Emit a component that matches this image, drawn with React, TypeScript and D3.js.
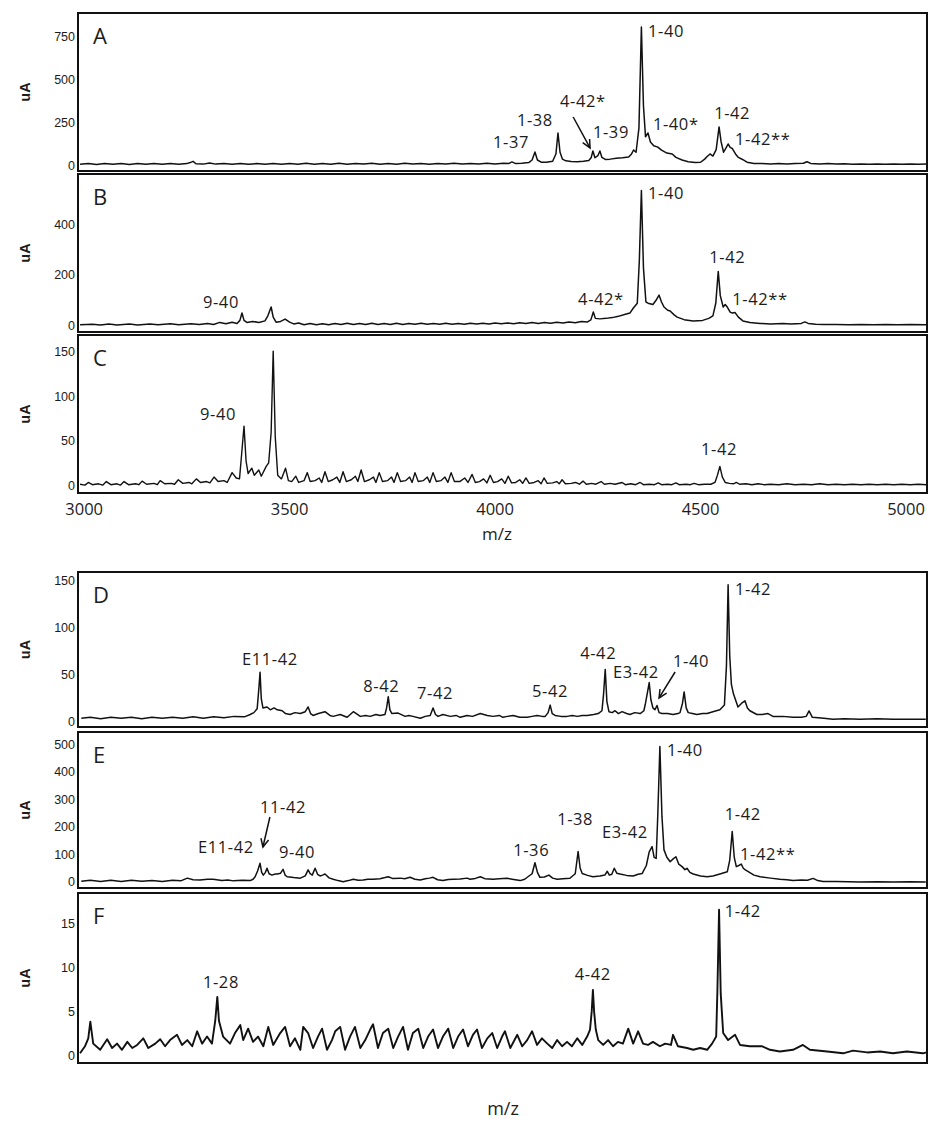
import React from 'react';
import * as d3 from 'd3';

// ---------------- DATA ----------------
const mzTicks = [3000, 3500, 4000, 4500, 5000];
const mzDomain = [2985, 5051];

const yTicksA = [0, 250, 500, 750];
const yTicksB = [0, 200, 400];
const yTicksC = [0, 50, 100, 150];
const yTicksD = [0, 50, 100, 150];
const yTicksE = [0, 100, 200, 300, 400, 500];
const yTicksF = [0, 5, 10, 15];

type Pt = [number, number];

const spectrumA: Pt[] = [[2990,10],[3010,14],[3030,9],[3050,15],[3070,10],[3090,14],[3110,9],[3130,15],[3150,10],[3170,15],[3190,10],[3210,14],[3230,10],[3250,14],[3258,20],[3265,27],[3272,13],[3290,11],[3305,18],[3320,11],[3340,14],[3360,10],[3380,15],[3400,10],[3420,14],[3440,10],[3460,15],[3480,10],[3500,14],[3520,10],[3540,16],[3560,10],[3580,15],[3600,10],[3620,16],[3640,10],[3660,15],[3680,11],[3700,16],[3720,10],[3740,15],[3760,10],[3780,16],[3800,11],[3820,15],[3840,10],[3860,15],[3880,11],[3900,16],[3920,11],[3940,15],[3960,12],[3980,16],[4000,12],[4020,16],[4033,14],[4041,24],[4050,14],[4065,16],[4082,20],[4090,35],[4097,81],[4103,35],[4112,22],[4125,22],[4140,28],[4148,70],[4153,192],[4158,80],[4164,40],[4172,30],[4185,26],[4200,25],[4215,28],[4228,32],[4234,50],[4238,87],[4243,48],[4250,60],[4255,87],[4260,50],[4268,38],[4280,40],[4295,45],[4310,48],[4325,52],[4332,70],[4337,93],[4343,80],[4350,220],[4356,808],[4361,350],[4366,170],[4372,192],[4378,140],[4386,118],[4396,110],[4405,92],[4418,75],[4431,70],[4440,50],[4455,35],[4470,25],[4487,20],[4500,22],[4510,40],[4516,55],[4523,70],[4530,58],[4538,95],[4545,227],[4550,140],[4556,80],[4562,105],[4567,128],[4572,108],[4577,102],[4585,70],[4592,50],[4602,38],[4613,22],[4630,15],[4650,14],[4670,12],[4690,15],[4710,12],[4730,14],[4750,16],[4759,25],[4768,15],[4790,12],[4810,14],[4830,11],[4850,13],[4870,10],[4890,12],[4910,10],[4930,12],[4950,10],[4970,12],[4990,10],[5010,12],[5030,10],[5050,11]];

const spectrumB: Pt[] = [[2990,5],[3020,7],[3040,4],[3060,8],[3080,4],[3110,8],[3130,4],[3160,8],[3180,5],[3210,9],[3230,5],[3260,9],[3280,6],[3300,10],[3315,6],[3330,14],[3345,9],[3360,15],[3372,10],[3379,22],[3384,51],[3389,22],[3396,14],[3410,18],[3425,14],[3440,20],[3447,40],[3455,75],[3460,35],[3467,15],[3478,18],[3489,27],[3500,15],[3510,8],[3522,12],[3535,5],[3550,10],[3565,5],[3580,9],[3595,5],[3610,10],[3625,6],[3640,11],[3655,6],[3670,10],[3685,6],[3700,11],[3715,6],[3730,10],[3745,6],[3760,11],[3775,6],[3790,10],[3805,7],[3820,11],[3835,7],[3850,10],[3865,7],[3880,11],[3895,7],[3910,10],[3925,7],[3940,11],[3955,8],[3970,11],[3985,8],[4000,12],[4015,9],[4030,12],[4045,9],[4060,13],[4075,10],[4090,14],[4105,10],[4120,14],[4135,11],[4150,15],[4165,12],[4180,16],[4195,13],[4210,18],[4225,16],[4233,24],[4239,55],[4244,30],[4255,28],[4270,30],[4285,33],[4300,38],[4315,45],[4328,51],[4336,70],[4346,90],[4351,260],[4356,537],[4361,230],[4367,95],[4372,90],[4384,85],[4393,105],[4399,122],[4405,95],[4411,75],[4420,62],[4426,59],[4435,45],[4443,35],[4460,25],[4482,20],[4505,22],[4520,30],[4530,40],[4537,90],[4543,216],[4548,120],[4555,75],[4560,85],[4565,75],[4572,55],[4577,51],[4584,53],[4592,35],[4603,20],[4620,14],[4645,10],[4670,8],[4700,10],[4720,8],[4745,10],[4754,16],[4762,10],[4780,7],[4800,6],[4830,6],[4860,5],[4890,6],[4920,5],[4950,6],[4980,5],[5010,6],[5050,5]];

const spectrumC: Pt[] = [[2990,2],[3002,1],[3010,4],[3020,1.5],[3035,2.5],[3045,1],[3054,5],[3065,1.5],[3080,2.5],[3088,1],[3097,5],[3108,1.5],[3125,2.5],[3133,1.5],[3141,5.5],[3152,2],[3170,3],[3178,1.5],[3185,6],[3196,2.5],[3212,3],[3220,2],[3229,7],[3240,3],[3255,4],[3262,2.5],[3273,8],[3283,4],[3298,5],[3306,3.5],[3316,10],[3326,5],[3340,6],[3348,4],[3360,15],[3370,9],[3378,8],[3384,40],[3389,67],[3394,28],[3399,14],[3408,20],[3414,12],[3425,18],[3431,11],[3443,22],[3449,26],[3455,60],[3460,151],[3465,55],[3471,12],[3480,8],[3490,20],[3497,6],[3505,5],[3515,11],[3522,4],[3535,6],[3543,15],[3550,5],[3562,6],[3572,9],[3578,4],[3586,16],[3594,5],[3605,7],[3615,10],[3622,4],[3630,16],[3638,5],[3650,7],[3660,11],[3666,5],[3674,18],[3682,5],[3694,7],[3704,10],[3710,4],[3718,15],[3726,5],[3738,6],[3748,10],[3754,4],[3762,15],[3770,5],[3782,6],[3792,10],[3798,4],[3805,15],[3813,5],[3825,6],[3835,10],[3841,4],[3849,15],[3857,5],[3868,6],[3878,10],[3885,4],[3893,15],[3901,5],[3914,5],[3926,9],[3934,4],[3944,13],[3952,4],[3962,5],[3972,8],[3980,3.5],[3988,12],[3996,4],[4006,5],[4016,8],[4024,3],[4032,11],[4040,3.5],[4050,4],[4060,7],[4067,3],[4075,9],[4083,3],[4095,4],[4105,6],[4112,2.5],[4119,9],[4127,3],[4140,3.5],[4150,5],[4156,2.5],[4163,7],[4171,2.5],[4185,3],[4196,4],[4205,2],[4214,5.5],[4222,2],[4235,3],[4245,2],[4258,5],[4266,2],[4280,3],[4292,2],[4309,4],[4317,1.5],[4330,2.5],[4342,1.5],[4353,4],[4361,1.5],[4375,2],[4388,1.5],[4397,3.5],[4405,1.5],[4420,2],[4430,1.5],[4440,3.5],[4448,1.5],[4465,2],[4475,1.5],[4484,3],[4495,1.5],[4510,2],[4525,2],[4535,4],[4541,12],[4547,22],[4553,10],[4560,4],[4570,3],[4580,2.5],[4587,4],[4595,2],[4610,2.5],[4625,1.5],[4640,2.5],[4655,1.5],[4670,2],[4690,1.5],[4710,2.5],[4730,1.5],[4750,2],[4770,1.5],[4790,2.5],[4810,1.5],[4830,2],[4850,1.5],[4870,2],[4890,1.5],[4910,2],[4930,1.5],[4950,2],[4970,1.5],[4990,2],[5010,1.5],[5030,2],[5050,1.5]];

const spectrumD: Pt[] = [[2993,4],[3015,5],[3040,3.5],[3065,5],[3090,4],[3115,5],[3140,3.5],[3165,5],[3190,4],[3215,5],[3240,4],[3265,5.5],[3290,4],[3315,5.5],[3340,4.5],[3365,6],[3390,5.5],[3404,8],[3413,10],[3421,14],[3425,35],[3428,53],[3431,25],[3435,15],[3445,16],[3453,13],[3462,15],[3470,13],[3482,12],[3490,9],[3501,8],[3513,10],[3526,9],[3538,11],[3545,16],[3551,9],[3557,7],[3570,9],[3586,11],[3598,7],[3606,6],[3623,8],[3640,5],[3655,11],[3672,6],[3685,7],[3696,6],[3710,8],[3720,7],[3732,8],[3736,15],[3740,27],[3744,13],[3749,9],[3764,9.5],[3781,6],[3790,7],[3800,6],[3818,4],[3830,6],[3842,7],[3849,15],[3855,8],[3861,6],[3873,8],[3891,6],[3905,7],[3915,5],[3932,7],[3945,6],[3964,9],[3981,7],[3995,6],[4010,7],[4019,5],[4030,6],[4044,7],[4060,5],[4078,5],[4090,6],[4102,7],[4115,6],[4122,6],[4129,10],[4134,18],[4139,9],[4146,7],[4160,6],[4175,6],[4188,7],[4200,6],[4212,7],[4224,7],[4240,8],[4251,9],[4260,12],[4264,30],[4268,56],[4272,22],[4277,11],[4285,10],[4292,12],[4300,9],[4309,11],[4320,9],[4328,8],[4340,10],[4353,9],[4362,12],[4366,20],[4371,32],[4375,42],[4379,24],[4384,15],[4389,13],[4394,17.6],[4399,10],[4406,9],[4420,9],[4433,8],[4445,9],[4450,10],[4456,20],[4460,32],[4465,15],[4470,10],[4480,9],[4491,8],[4505,9],[4516,9],[4530,11],[4547,13],[4558,18],[4563,60],[4567,146],[4571,70],[4575,40],[4580,30],[4591,16],[4600,20],[4608,22.6],[4614,15],[4620,12],[4637,8],[4650,8],[4664,9],[4676,6],[4700,6],[4725,5],[4745,5],[4757,6],[4764,11.8],[4772,5],[4800,4],[4822,3],[4850,3.5],[4888,3],[4930,3.5],[4968,3],[5010,3],[5048,3]];

const spectrumE: Pt[] = [[2993,3],[3015,6],[3040,2],[3065,6],[3090,2],[3115,6],[3140,3],[3165,5],[3190,2],[3215,6],[3235,4],[3251,14],[3265,8],[3282,7],[3300,10],[3314,10],[3335,5],[3350,7],[3363,4],[3385,6],[3404,5],[3411,10],[3416,19],[3422,40],[3428,68],[3432,35],[3436,25],[3441,35],[3445,50],[3450,30],[3457,25],[3465,29],[3470,29],[3478,32],[3484,46],[3489,25],[3494,19],[3510,16],[3526,14],[3538,22],[3545,44],[3550,30],[3555,25],[3562,50],[3568,28],[3574,22],[3580,25],[3586,29],[3596,15],[3606,10],[3618,5],[3630,1],[3643,5],[3655,10],[3667,6],[3679,7],[3690,10],[3703,10],[3720,12],[3732,16],[3740,19],[3750,13],[3769,14],[3780,12],[3793,17],[3805,10],[3818,7],[3830,12],[3840,14],[3849,17],[3860,8],[3873,5],[3886,9],[3898,10],[3915,11],[3932,14],[3939,10],[3952,13],[3964,19],[3975,12],[3995,10],[4010,12],[4029,13.5],[4045,9],[4061,5],[4072,10],[4080,19],[4090,30],[4097,70],[4103,35],[4109,17],[4120,18],[4131,25],[4140,14],[4151,10],[4165,12],[4182,13.5],[4195,30],[4202,111],[4207,50],[4212,31],[4225,24],[4238,19],[4255,22],[4267,25],[4273,39],[4278,25],[4284,28],[4290,50],[4296,32],[4304,29],[4320,24],[4336,22],[4348,28],[4358,31],[4368,60],[4375,110],[4382,129],[4387,90],[4392,86],[4396,250],[4401,494],[4406,240],[4411,117],[4418,90],[4426,74],[4434,85],[4440,92],[4447,65],[4455,56],[4462,45],[4467,50],[4474,35],[4482,29],[4500,22],[4516,19],[4530,22],[4547,29],[4565,37],[4571,80],[4577,184],[4582,90],[4587,56],[4593,60],[4599,65],[4604,50],[4608,45],[4616,38],[4630,25],[4645,19],[4670,14],[4693,10],[4710,8],[4725,5],[4745,7],[4760,6],[4774,13],[4785,5],[4798,2],[4830,2],[4860,0.5],[4888,0],[4930,1],[4970,0],[5010,1],[5048,0]];

const spectrumF: Pt[] = [[2990,0.3],[3002,1.1],[3010,2],[3015,3.9],[3022,1.4],[3039,0.7],[3056,1.9],[3068,0.9],[3080,1.4],[3092,0.7],[3105,1.6],[3117,0.9],[3129,1.25],[3144,2.0],[3156,0.9],[3173,1.4],[3185,1.9],[3197,1.1],[3209,1.8],[3226,2.4],[3238,1.25],[3251,1.8],[3263,1.1],[3275,2.8],[3287,1.4],[3299,2.2],[3311,1.4],[3319,4],[3324,6.7],[3328,4],[3338,2.2],[3355,1.4],[3367,2.6],[3380,3.5],[3387,1.8],[3399,3.1],[3411,1.6],[3423,2.2],[3436,1.1],[3448,3.3],[3460,1.25],[3477,2.6],[3489,3.3],[3501,1.1],[3513,2.0],[3526,0.7],[3533,3.3],[3545,2.6],[3557,0.9],[3569,2.2],[3579,3.1],[3591,0.7],[3603,1.8],[3611,2.8],[3623,3.3],[3635,0.7],[3647,2.2],[3659,3.3],[3672,0.9],[3684,1.8],[3696,3.0],[3703,3.6],[3715,0.9],[3727,2.6],[3740,3.1],[3752,0.9],[3764,2.2],[3776,3.3],[3788,0.7],[3800,2.6],[3813,3.1],[3825,0.9],[3837,2.2],[3849,3.0],[3861,0.9],[3873,2.2],[3886,3.1],[3898,0.9],[3910,2.2],[3922,3.0],[3934,1.1],[3946,2.4],[3956,3.0],[3968,0.9],[3981,2.0],[3993,2.6],[4005,0.9],[4017,2.2],[4024,2.8],[4037,0.9],[4054,2.4],[4066,1.1],[4078,1.8],[4090,2.8],[4102,1.25],[4114,2.0],[4127,1.4],[4139,0.9],[4151,1.8],[4163,1.1],[4175,1.6],[4187,1.1],[4200,2.0],[4212,1.25],[4224,2.2],[4231,3.0],[4235,5],[4238,7.5],[4241,5],[4245,3.0],[4251,1.8],[4263,1.25],[4275,1.8],[4287,1.1],[4299,1.6],[4311,1.4],[4324,3.1],[4336,1.4],[4348,2.8],[4360,1.4],[4372,1.25],[4384,1.6],[4401,1.1],[4414,1.4],[4428,1.25],[4433,2.4],[4445,1.1],[4467,0.9],[4482,0.7],[4499,0.9],[4516,0.7],[4528,1.4],[4538,2.2],[4541,7.5],[4545,16.6],[4549,7.1],[4555,2.6],[4567,1.8],[4584,2.4],[4596,1.25],[4620,1.1],[4650,1.1],[4669,0.7],[4693,0.5],[4725,0.7],[4749,1.25],[4766,0.7],[4808,0.5],[4847,0.3],[4871,0.6],[4905,0.4],[4937,0.5],[4968,0.3],[5002,0.5],[5041,0.3],[5050,0.4]];

// annotation labels: [text, m/z of left edge, intensity at baseline]
type Lab = [string, number, number];
const labelsA: Lab[] = [['1-40',4372,752],['1-37',3995,105],['1-38',4053,233],['4-42*',4158,343],['1-39',4238,163],['1-40*',4384,209],['1-42',4533,273],['1-42**',4584,122]];
const labelsB: Lab[] = [['9-40',3289,71],['1-40',4372,503],['1-42',4521,249],['4-42*',4202,83],['1-42**',4577,83]];
const labelsC: Lab[] = [['9-40',3282,74],['1-42',4501,35]];
const labelsD: Lab[] = [['E11-42',3384,60.7],['8-42',3679,31.9],['7-42',3810,24.5],['5-42',4090,26.6],['4-42',4207,67],['E3-42',4287,46.8],['1-40',4433,58.5],['1-42',4584,135]];
const labelsE: Lab[] = [['11-42',3428,251.6],['E11-42',3277,105.7],['9-40',3474,87.4],['1-40',4418,459.5],['1-38',4151,207.8],['E3-42',4260,160.4],['1-36',4044,94.7],['1-42',4559,226],['1-42**',4596,80]];
const labelsF: Lab[] = [['1-28',3289,7.7],['4-42',4194,8.6],['1-42',4559,15.8]];

// arrows: [mz from, value from, mz to, value to]
type Arr = [number, number, number, number];
const arrowsA: Arr[] = [[4190, 285, 4231, 105]];
const arrowsD: Arr[] = [[4438, 53.2, 4399, 25.6]];
const arrowsE: Arr[] = [[3452, 237, 3435, 127.5]];

// ---------------- LAYOUT ----------------
const W = 939, H = 1125;
const plotL = 78, plotR = 927;

const panels = [
  { name: 'A', top: 13, bottom: 171, yDomain: [-29, 889.5], ticks: yTicksA, data: spectrumA, labels: labelsA, arrows: arrowsA, sw: 1.5 },
  { name: 'B', top: 174, bottom: 332, yDomain: [-24, 602], ticks: yTicksB, data: spectrumB, labels: labelsB, arrows: [] as Arr[], sw: 1.5 },
  { name: 'C', top: 335, bottom: 493, yDomain: [-7.8, 169], ticks: yTicksC, data: spectrumC, labels: labelsC, arrows: [] as Arr[], sw: 1.4 },
  { name: 'D', top: 572, bottom: 727, yDomain: [-5.3, 159.6], ticks: yTicksD, data: spectrumD, labels: labelsD, arrows: arrowsD, sw: 1.5 },
  { name: 'E', top: 732, bottom: 888, yDomain: [-22, 547], ticks: yTicksE, data: spectrumE, labels: labelsE, arrows: arrowsE, sw: 1.5 },
  { name: 'F', top: 893, bottom: 1063, yDomain: [-0.8, 18.5], ticks: yTicksF, data: spectrumF, labels: labelsF, arrows: [] as Arr[], sw: 1.9 },
];

const labelFont = '"Open Sans", "DejaVu Sans", sans-serif';
const tickFont = '"Liberation Sans", Arial, sans-serif';
const ink = '#1c1c1c';

export default function App() {
  const x = d3.scaleLinear().domain(mzDomain).range([plotL, plotR]);

  return (
    <svg width={W} height={H} viewBox={`0 0 ${W} ${H}`}
      style={{ position: 'absolute', left: 0, top: 0, background: '#fff' }}>
      <rect x={0} y={0} width={W} height={H} fill="#fff" />
      <defs>
        {panels.map((p) => (
          <clipPath id={`clip-${p.name}`} key={p.name}>
            <rect x={plotL} y={p.top} width={plotR - plotL} height={p.bottom - p.top} />
          </clipPath>
        ))}
      </defs>
      {panels.map((p) => {
        const y = d3.scaleLinear().domain(p.yDomain).range([p.bottom, p.top]);
        const line = d3.line<Pt>().x((d) => x(d[0])).y((d) => y(d[1]));
        const cy = (p.top + p.bottom) / 2;
        return (
          <g key={p.name}>
            <path d={line(p.data) || ''} fill="none" stroke="#111" strokeWidth={p.sw}
              strokeLinejoin="round" clipPath={`url(#clip-${p.name})`} />
            <rect x={plotL} y={p.top} width={plotR - plotL} height={p.bottom - p.top}
              fill="none" stroke="#111" strokeWidth={2} />
            {p.ticks.map((t) => (
              <text key={t} x={75} y={y(t)} textAnchor="end" dominantBaseline="central"
                fontFamily={tickFont} fontSize={12.5} fill={ink}>{t}</text>
            ))}
            <text x={30} y={cy} transform={`rotate(-90 30 ${cy})`} textAnchor="middle"
              fontFamily={tickFont} fontSize={14.5} fontWeight="bold" fill={ink}>uA</text>
            <text x={93} y={p.top + 31} fontFamily={labelFont} fontSize={22} fill={ink}>{p.name}</text>
            {p.labels.map(([txt, mz, v], i) => (
              <text key={i} x={x(mz)} y={y(v)} fontFamily={labelFont} fontSize={16.5}
                letterSpacing={0.6} fill={ink}>{txt}</text>
            ))}
            {p.arrows.map(([m1, v1, m2, v2], i) => {
              const x1 = x(m1), y1 = y(v1), x2 = x(m2), y2 = y(v2);
              const a = Math.atan2(y2 - y1, x2 - x1);
              const L = 9, spread = 0.45;
              const hx1 = x2 - L * Math.cos(a - spread), hy1 = y2 - L * Math.sin(a - spread);
              const hx2 = x2 - L * Math.cos(a + spread), hy2 = y2 - L * Math.sin(a + spread);
              return (
                <g key={i} stroke="#111" strokeWidth={1.5} fill="none">
                  <line x1={x1} y1={y1} x2={x2} y2={y2} />
                  <polyline points={`${hx1},${hy1} ${x2},${y2} ${hx2},${hy2}`} />
                </g>
              );
            })}
          </g>
        );
      })}
      {mzTicks.map((t) => (
        <text key={t} x={x(t)} y={515} textAnchor="middle" fontFamily={labelFont} fontSize={16.5} fill={ink}>{t}</text>
      ))}
      <text x={497} y={540} textAnchor="middle" fontFamily={labelFont} fontSize={17} fill={ink}>m/z</text>
      <text x={503} y={1115} textAnchor="middle" fontFamily={labelFont} fontSize={18} fill={ink}>m/z</text>
    </svg>
  );
}
